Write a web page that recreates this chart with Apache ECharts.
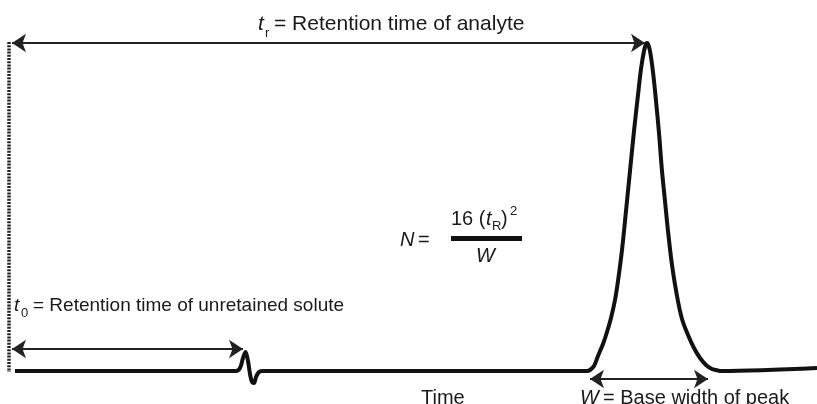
<!DOCTYPE html>
<html>
<head>
<meta charset="utf-8">
<script src="https://cdn.jsdelivr.net/npm/echarts@6/dist/echarts.min.js"></script>
<style>html,body{margin:0;padding:0;background:#fff}#c{width:817px;height:404px}</style>
</head>
<body>
<div id="c"></div>
<script>
// Chromatogram trace: time (x) and detector signal (y)
const times = [15, 236, 240, 243, 245.5, 248, 250, 252, 254, 256, 259, 262, 587,
  590, 594, 598, 603, 607, 611, 615, 618, 622, 626, 630, 634, 638, 641, 644, 646, 647,
  648, 650, 653, 656, 659, 662, 665, 668, 672, 677, 682, 688, 694, 700, 706, 712, 716, 720, 817];
const signal = [0, 0, 3, 13, 19, 10, -3, -11, -12, -6, -1, 0, 0,
  1, 5, 15, 27, 39, 53, 71, 90, 121, 160, 200, 240, 276, 302, 320, 327, 328,
  327, 320, 299, 270, 238, 200, 170, 140, 106, 75, 52, 36, 23, 13, 6, 2, 1, 0, 3];

// annotation values (time, signal)
const t0Time = 243, trTime = 645, startTime = 12;
const peakStart = 590, peakEnd = 708;
const trArrowLevel = 328, t0ArrowLevel = 22, wArrowLevel = -8;

const series = times.map((t, i) => [t, signal[i]]);

const chart = echarts.init(document.getElementById('c'), null, {renderer: 'canvas'});
const FONT = 'Liberation Sans, Arial, Helvetica, sans-serif';
const txt = (x, y, text, size, italic) => ({
  type: 'text', x: x, y: y, silent: true,
  style: {text: text, fontSize: size, fontFamily: FONT, fontStyle: italic ? 'italic' : 'normal',
    fill: '#1a1a1a', verticalAlign: 'middle', align: 'left'}
});

chart.setOption({
  animation: false,
  backgroundColor: '#fff',
  grid: {left: 0, right: 0, top: 0, bottom: 0},
  xAxis: {type: 'value', min: 0, max: 817, show: false},
  yAxis: {type: 'value', min: -33, max: 371, show: false},
  series: [{
    type: 'line',
    data: series,
    smooth: 0.35,
    showSymbol: false,
    lineStyle: {color: '#111', width: 4},
    markLine: {
      silent: true,
      animation: false,
      symbol: ['arrow', 'arrow'],
      symbolSize: 14,
      label: {show: false},
      lineStyle: {color: '#222', width: 2, type: 'solid'},
      data: [
        [{coord: [startTime, trArrowLevel]}, {coord: [trTime, trArrowLevel]}],
        [{coord: [startTime, t0ArrowLevel]}, {coord: [t0Time, t0ArrowLevel]}],
        [{coord: [peakStart, wArrowLevel]}, {coord: [peakEnd, wArrowLevel]}],
        [{coord: [9, trArrowLevel + 1], symbol: 'none', lineStyle: {type: [2, 1.2], width: 3.5, color: '#222'}},
         {coord: [9, -1], symbol: 'none'}]
      ]
    }
  }],
  graphic: [
    // top label
    txt(258, 24, 't', 21, true),
    txt(265, 33, 'r', 13, false),
    txt(274, 24, '= Retention time of analyte', 21, false),
    // t0 label
    txt(14, 306, 't', 19, true),
    txt(21, 313, '0', 13, false),
    txt(33, 306, '= Retention time of unretained solute', 19, false),
    // formula
    txt(400, 240, 'N', 20, true),
    txt(418, 240, '=', 20, false),
    txt(451, 219, '16 (', 20, false),
    txt(486, 219, 't', 20, true),
    txt(492, 226, 'R', 13, false),
    txt(501, 219, ')', 20, false),
    txt(510, 211, '2', 13, false),
    {type: 'rect', silent: true, shape: {x: 451, y: 236, width: 71, height: 5}, style: {fill: '#111'}},
    txt(476, 256, 'W', 20, true),
    // bottom labels
    txt(421, 398, 'Time', 20, false),
    txt(580, 398, 'W', 20, true),
    txt(603, 398, '= Base width of peak', 20, false)
  ]
});
</script>
</body>
</html>
